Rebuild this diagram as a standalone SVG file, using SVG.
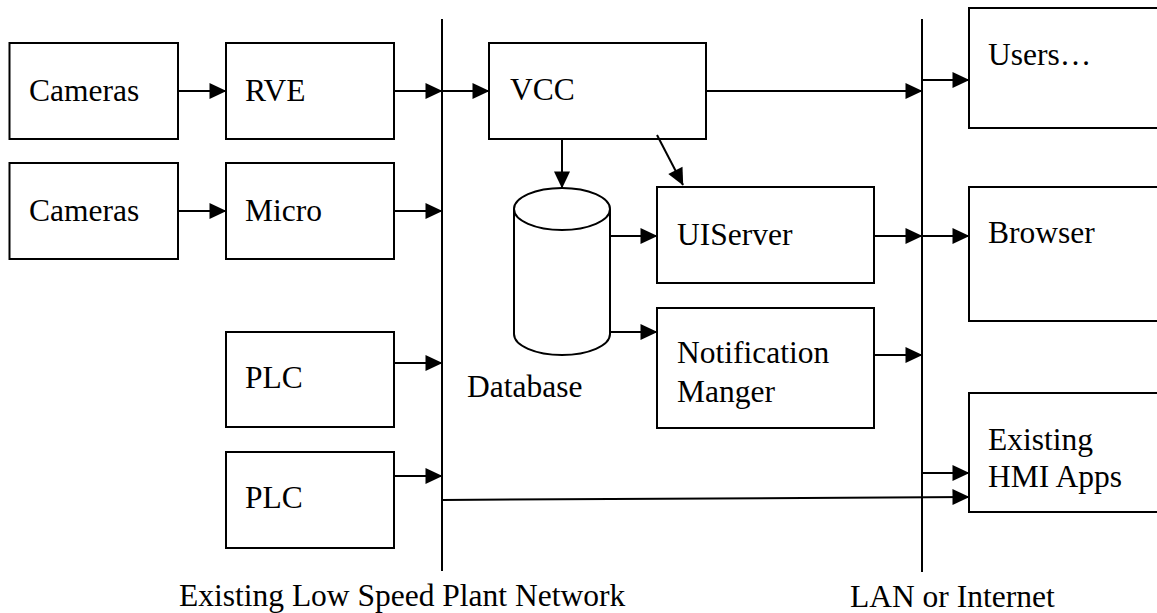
<svg xmlns="http://www.w3.org/2000/svg" width="1157" height="613" viewBox="0 0 1157 613">
<style>
.box{fill:#fff;stroke:#000;stroke-width:2}
.t{font-family:"Liberation Serif","Times New Roman","DejaVu Serif",serif;font-size:31.5px;fill:#000}
.c{fill:none;stroke:#000;stroke-width:2}
.a{marker-end:url(#arr)}
</style>
<defs>
<marker id="arr" markerUnits="userSpaceOnUse" viewBox="0 0 17 16" markerWidth="17" markerHeight="16" refX="16.5" refY="8" orient="auto" overflow="visible">
<path d="M0,0 L17,8 L0,16 Z" fill="#000"/>
</marker>
</defs>
<rect width="1157" height="613" fill="#fff"/>
<g id="cameras1"><rect class="box" x="9.5" y="43" width="168.5" height="96"/><text class="t" font-family="Liberation Serif, serif" x="29" y="101">Cameras</text></g>
<g id="rve"><rect class="box" x="226" y="43" width="168" height="96"/><text class="t" font-family="Liberation Serif, serif" x="245" y="101">RVE</text></g>
<g id="cameras2"><rect class="box" x="9.5" y="163" width="168.5" height="96"/><text class="t" font-family="Liberation Serif, serif" x="29" y="221">Cameras</text></g>
<g id="micro"><rect class="box" x="226" y="163" width="168" height="96"/><text class="t" font-family="Liberation Serif, serif" x="245" y="221">Micro</text></g>
<g id="plc1"><rect class="box" x="226" y="332" width="168" height="95"/><text class="t" font-family="Liberation Serif, serif" x="245" y="388">PLC</text></g>
<g id="plc2"><rect class="box" x="226" y="452" width="168" height="96"/><text class="t" font-family="Liberation Serif, serif" x="245" y="508">PLC</text></g>
<g id="vcc"><rect class="box" x="489" y="43" width="217" height="96"/><text class="t" font-family="Liberation Serif, serif" x="510" y="100">VCC</text></g>
<g id="database">
<path class="box" d="M514,209 L514,334 A48,21 0 0 0 610,334 L610,209"/>
<ellipse class="box" cx="562" cy="209" rx="48" ry="21"/>
<text class="t" font-family="Liberation Serif, serif" x="467" y="397">Database</text>
</g>
<g id="uiserver"><rect class="box" x="657" y="187" width="217" height="96"/><text class="t" font-family="Liberation Serif, serif" x="677" y="245">UIServer</text></g>
<g id="notification"><rect class="box" x="657" y="308" width="217" height="120"/><text class="t" font-family="Liberation Serif, serif" x="677" y="363">Notification</text><text class="t" font-family="Liberation Serif, serif" x="677" y="402">Manger</text></g>
<g id="users"><rect class="box" x="969" y="8" width="200" height="120"/><text class="t" font-family="Liberation Serif, serif" x="988" y="65">Users…</text></g>
<g id="browser"><rect class="box" x="969" y="187" width="200" height="134"/><text class="t" font-family="Liberation Serif, serif" x="988" y="243">Browser</text></g>
<g id="hmi"><rect class="box" x="969" y="393" width="200" height="119"/><text class="t" font-family="Liberation Serif, serif" x="988" y="450">Existing</text><text class="t" font-family="Liberation Serif, serif" x="988" y="487">HMI Apps</text></g>
<g id="plant-network"><line class="c" x1="442" y1="19" x2="442" y2="571"/><text class="t" font-family="Liberation Serif, serif" x="179" y="606">Existing Low Speed Plant Network</text></g>
<g id="lan"><line class="c" x1="922" y1="19" x2="922" y2="572"/><text class="t" font-family="Liberation Serif, serif" x="850" y="607">LAN or Internet</text></g>
<g id="connectors">
<line class="c a" x1="178" y1="91" x2="226" y2="91"/>
<line class="c a" x1="394" y1="91" x2="442" y2="91"/>
<line class="c a" x1="442" y1="91" x2="489" y2="91"/>
<line class="c a" x1="178" y1="211" x2="226" y2="211"/>
<line class="c a" x1="394" y1="211" x2="442" y2="211"/>
<line class="c a" x1="394" y1="363" x2="442" y2="363"/>
<line class="c a" x1="394" y1="476" x2="442" y2="476"/>
<line class="c a" x1="442" y1="500" x2="969" y2="497"/>
<line class="c a" x1="706" y1="91" x2="922" y2="91"/>
<line class="c a" x1="922" y1="80" x2="969" y2="80"/>
<line class="c a" x1="562" y1="139" x2="562" y2="188"/>
<line class="c a" x1="657" y1="135" x2="683" y2="185"/>
<line class="c a" x1="610" y1="236" x2="657" y2="236"/>
<line class="c a" x1="610" y1="332" x2="657" y2="332"/>
<line class="c a" x1="874" y1="236" x2="922" y2="236"/>
<line class="c a" x1="922" y1="236" x2="969" y2="236"/>
<line class="c a" x1="874" y1="355" x2="922" y2="355"/>
<line class="c a" x1="922" y1="473" x2="969" y2="473"/>
</g>
</svg>
